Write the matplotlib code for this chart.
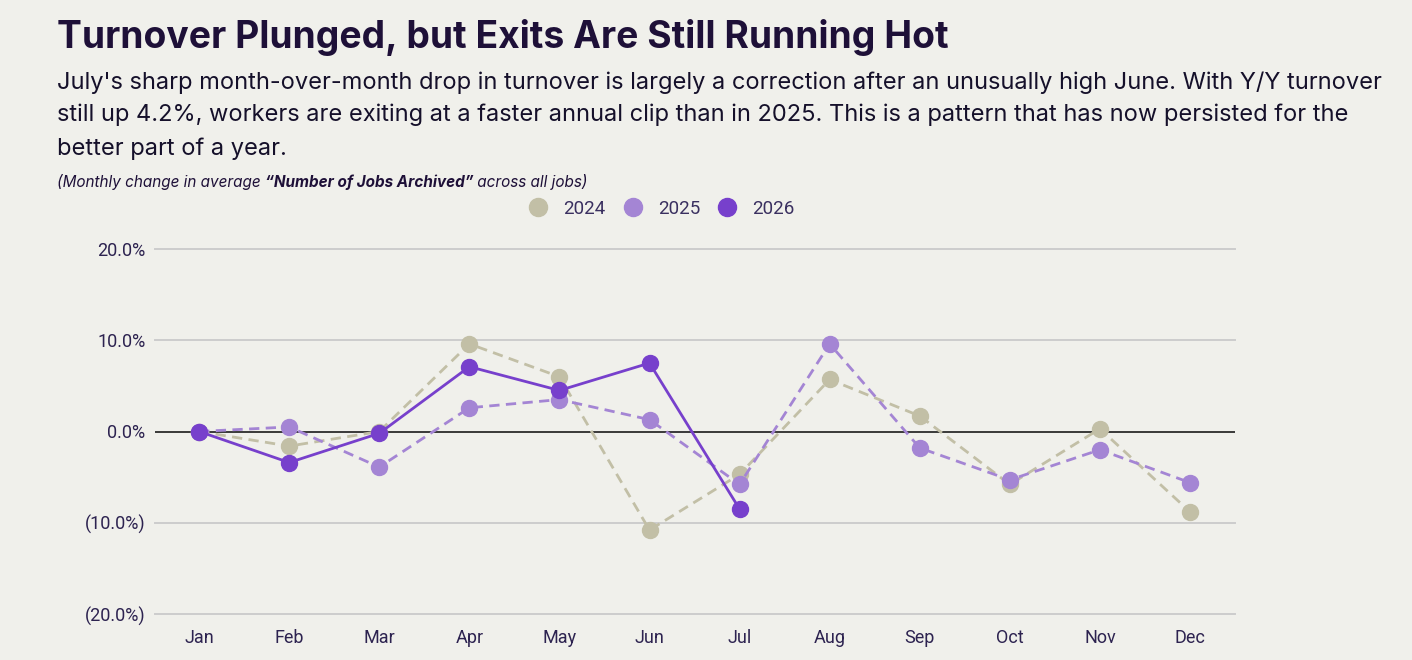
import numpy as np
import matplotlib
matplotlib.use("Agg")
import matplotlib.pyplot as plt
from matplotlib.lines import Line2D

months = ["Jan", "Feb", "Mar", "Apr", "May", "Jun", "Jul", "Aug", "Sep", "Oct", "Nov", "Dec"]
y2024 = [0.0, -1.6, 0.0, 9.6, 6.0, -10.8, -4.7, 5.7, 1.7, -5.8, 0.3, -8.8]
y2025 = [0.0, 0.5, -3.9, 2.6, 3.5, 1.3, -5.8, 9.6, -1.8, -5.3, -2.0, -5.6]
y2026 = [0.0, -3.4, -0.2, 7.1, 4.5, 7.5, -8.5, np.nan, np.nan, np.nan, np.nan, np.nan]
yticks = [-20, -10, 0, 10, 20]
ytick_labels = ["(20.0%)", "(10.0%)", "0.0%", "10.0%", "20.0%"]
series_names = ["2024", "2025", "2026"]

BG = "#f0f0eb"
C24 = "#c2bfa6"
C25 = "#a485d4"
C26 = "#7740cc"
DARK = "#1e1038"
TICK = "#2d2350"

fig = plt.figure(figsize=(14.12, 6.6), dpi=100, facecolor=BG)
ax = fig.add_axes([155/1412, 46/660, 1080/1412, 365/660], facecolor=BG)

x = np.arange(len(months))
ax.plot(x, y2024, color=C24, lw=2.0, ls=(0, (3.7, 2.3)), marker="o", ms=11.5,
        mec=C24, mfc=C24, zorder=3, clip_on=False)
ax.plot(x, y2025, color=C25, lw=2.0, ls=(0, (3.7, 2.3)), marker="o", ms=11.5,
        mec=C25, mfc=C25, zorder=4, clip_on=False)
ax.plot(x, y2026, color=C26, lw=2.0, ls="-", marker="o", ms=11.5,
        mec=C26, mfc=C26, zorder=5, clip_on=False)

ax.set_xlim(-0.49, 11.5)
ax.set_ylim(-20, 20)
ax.set_yticks(yticks)
ax.set_yticklabels(ytick_labels)
ax.set_xticks(x)
ax.set_xticklabels(months)
for yv in yticks:
    if yv == 0:
        ax.axhline(yv, color="#2b2b2b", lw=1.3, zorder=2)
    else:
        ax.axhline(yv, color="#cdcdcd", lw=1.4, zorder=1, clip_on=False)
for s in ax.spines.values():
    s.set_visible(False)
ax.tick_params(axis="both", length=0, labelsize=13, labelcolor=TICK)
ax.tick_params(axis="y", pad=7)
ax.tick_params(axis="x", pad=11)
for lab in ax.get_xticklabels() + ax.get_yticklabels():
    lab.set_fontfamily("Roboto")

# Title and subtitle
fig.text(57/1412, 1 - 38/660, "Turnover Plunged, but Exits Are Still Running Hot",
         fontsize=26.8, fontweight="bold", family="Inter", color=DARK, va="center", ha="left")
sub = ("July's sharp month-over-month drop in turnover is largely a correction after an unusually high June. With Y/Y turnover\n"
       "still up 4.2%, workers are exiting at a faster annual clip than in 2025. This is a pattern that has now persisted for the\n"
       "better part of a year.")
fig.text(57/1412, 1 - 71/660, sub, fontsize=17, family="Inter", color="#15102a",
         va="top", ha="left", linespacing=1.6)

# Note with mixed styles
fig.canvas.draw()
renderer = fig.canvas.get_renderer()
xpos = 57/1412
ypos = 1 - 182/660
parts = [("(Monthly change in average ", "normal"),
         ("\u201cNumber of Jobs Archived\u201d", "bold"),
         (" across all jobs)", "normal")]
for txt, wt in parts:
    t = fig.text(xpos, ypos, txt, fontsize=11, style="italic", fontweight=wt,
                 family="Inter", color=DARK, va="center", ha="left")
    bb = t.get_window_extent(renderer)
    xpos += bb.width / fig.bbox.width

# Legend
handles = [Line2D([], [], ls="none", marker="o", ms=13, mfc=c, mec=c)
           for c in (C24, C25, C26)]
leg = fig.legend(handles, series_names, loc="center", bbox_to_anchor=(657/1412, 1 - 209/660),
                 ncol=3, frameon=False, handletextpad=0.35, columnspacing=0.45,
                 prop={"family": "Roboto", "size": 13.5})
for t in leg.get_texts():
    t.set_color("#3a3060")

fig.savefig("out.png", dpi=100, facecolor=BG)
